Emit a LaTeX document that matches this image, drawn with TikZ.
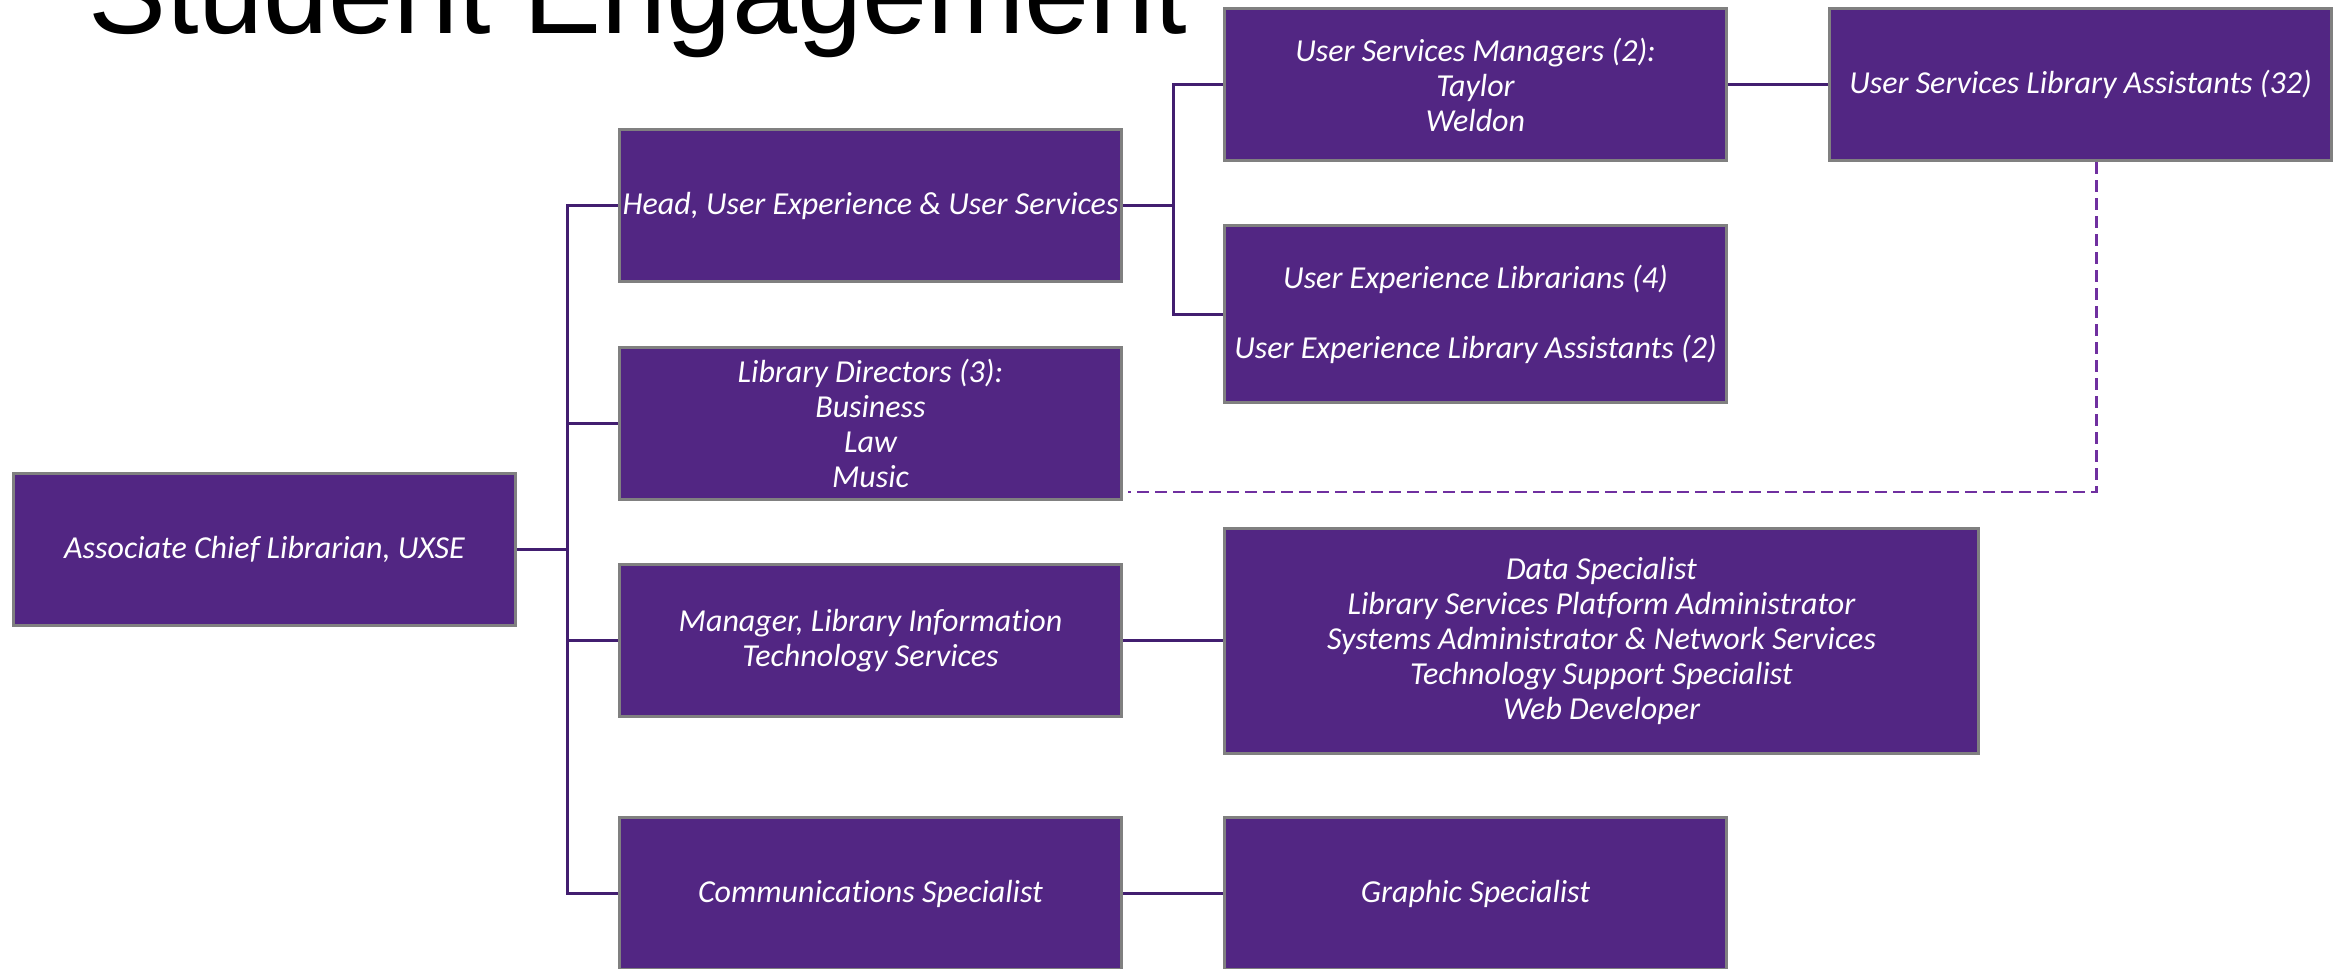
\documentclass[tikz,border=0pt]{standalone}
\usepackage{fontspec}
\setmainfont{Carlito}[Ligatures=NoCommon]
\newfontfamily\headingfont{Liberation Sans}
\usetikzlibrary{positioning}
\definecolor{orgpurple}{RGB}{82,38,131}
\definecolor{linkpurple}{RGB}{66,30,112}
\definecolor{dotpurple}{RGB}{112,48,160}
\definecolor{edgegray}{RGB}{128,128,128}

\begin{document}
\begin{tikzpicture}[
        x=1pt, y=-1pt,
        orgbox/.style={rectangle, draw=edgegray, line width=3pt, fill=orgpurple, text=white,
            minimum width=502pt, minimum height=152pt, inner sep=2pt, align=center,
            font=\fontsize{32}{35}\selectfont\itshape},
        heading/.style={anchor=base west, inner sep=0pt, font=\headingfont\fontsize{117}{120}\selectfont},
        link/.style={draw=linkpurple, line width=3pt},
        dottedlink/.style={draw=dotpurple, line width=2.5pt, dash pattern=on 12pt off 6pt}
    ]

        \useasboundingbox (0,0) rectangle (2348,969);
        \clip (0,0) rectangle (2348,969);

        \node [heading] (Title) at (88,33) {Student Engagement};

        \node [orgbox] (Root) at (264.5,549.5) {Associate Chief Librarian, UXSE};
        \node [orgbox] (Head) at (870.5,205.5) {Head, User Experience \& User Services};
        \node [orgbox] (Directors) [below=63pt of Head] {Library Directors (3):\\Business\\Law\\Music};
        \node [orgbox] (ITManager) [below=62pt of Directors] {Manager, Library Information\\Technology Services};
        \node [orgbox] (Comms) [below=98pt of ITManager] {Communications Specialist};

        \node [orgbox] (SvcManagers) at (1475.5,84.5) {User Services Managers (2):\\Taylor\\Weldon};
        \node [orgbox] (SvcAssistants) [right=100pt of SvcManagers] {User Services Library Assistants (32)};
        \node [orgbox, minimum height=177pt] (UXStaff) [below=62pt of SvcManagers]
            {User Experience Librarians (4)\\[35pt]User Experience Library Assistants (2)};
        \node [orgbox, minimum width=754pt, minimum height=225pt] (ITStaff) [right=100pt of ITManager]
            {Data Specialist\\Library Services Platform Administrator\\Systems Administrator \& Network Services\\Technology Support Specialist\\Web Developer};
        \node [orgbox] (Graphic) [right=100pt of Comms] {Graphic Specialist};

        % reporting lines
        \draw [link] (Root.east) -- ++(50,0) coordinate (RootBus);
        \draw [link] (RootBus) |- (Head.west);
        \draw [link] (RootBus) |- (Directors.west);
        \draw [link] (RootBus) |- (ITManager.west);
        \draw [link] (RootBus) |- (Comms.west);

        \draw [link] (Head.east) -- ++(50,0) coordinate (HeadBus);
        \draw [link] (HeadBus) |- (SvcManagers.west);
        \draw [link] (HeadBus) |- (UXStaff.west);

        \draw [link] (SvcManagers.east) -- (SvcAssistants.west);
        \draw [link] (ITManager.east) -- (ITStaff.west);
        \draw [link] (Comms.east) -- (Graphic.west);

        % dotted line
        \draw [dottedlink] ([xshift=16pt]SvcAssistants.south) |- ([xshift=5pt,yshift=9pt]Directors.south east);

    \end{tikzpicture}
\end{document}
